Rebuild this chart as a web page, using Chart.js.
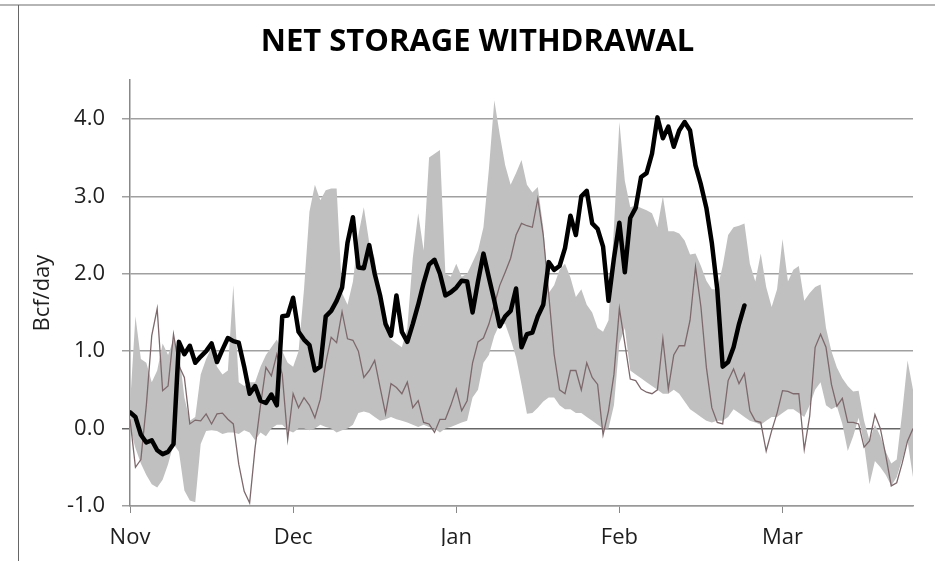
<!DOCTYPE html>
<html>
<head>
<meta charset="utf-8">
<title>Net Storage Withdrawal</title>
<script src="https://cdn.jsdelivr.net/npm/chart.js@4.4.1/dist/chart.umd.min.js"></script>
<style>
  html, body { margin: 0; padding: 0; background: #fff; }
  #frame { position: absolute; left: 0; top: 0; width: 935px; height: 561px; overflow: hidden; }
  #topline { position: absolute; left: 0; top: 4px; width: 935px; height: 2px; background: #b5b5b5; }
  #leftline { position: absolute; left: 18px; top: 5px; width: 1px; height: 556px; background: #666; }
  canvas { position: absolute; left: 0; top: 0; }
</style>
</head>
<body>
<div id="frame">
  <div id="topline"></div>
  <div id="leftline"></div>
  <canvas id="chart" width="935" height="561"></canvas>
</div>
<script>
// day index 0 = Nov 1, ticks every 30 days
const monthLabels = ['Nov', 'Dec', 'Jan', 'Feb', 'Mar'];
const monthTicks = [0, 30, 60, 90, 120];
const yTicks = [-1, 0, 1, 2, 3, 4];

// current season (thick black line)
const currentSeason = [
  0.21, 0.15, -0.08, -0.18, -0.15, -0.28, -0.33, -0.30, -0.20, 1.12,
  0.96, 1.07, 0.85, 0.93, 1.00, 1.10, 0.86, 1.02, 1.17, 1.13,
  1.11, 0.80, 0.45, 0.55, 0.36, 0.33, 0.44, 0.30, 1.45, 1.46,
  1.69, 1.25, 1.15, 1.08, 0.75, 0.80, 1.45, 1.52, 1.65, 1.82,
  2.40, 2.73, 2.08, 2.07, 2.37, 2.00, 1.72, 1.35, 1.20, 1.72,
  1.25, 1.12, 1.35, 1.60, 1.88, 2.12, 2.18, 2.00, 1.72, 1.76,
  1.82, 1.91, 1.90, 1.50, 1.90, 2.26, 1.95, 1.65, 1.32, 1.45,
  1.52, 1.81, 1.05, 1.22, 1.24, 1.45, 1.60, 2.15, 2.05, 2.10,
  2.33, 2.75, 2.50, 3.00, 3.07, 2.65, 2.58, 2.35, 1.65, 2.20,
  2.66, 2.02, 2.72, 2.85, 3.25, 3.30, 3.55, 4.02, 3.75, 3.90,
  3.64, 3.85, 3.96, 3.85, 3.40, 3.15, 2.85, 2.40, 1.80, 0.80,
  0.86, 1.05, 1.35, 1.59
];

// last season (thin line)
const lastSeason = [
  0.12, -0.50, -0.40, 0.30, 1.20, 1.55, 0.49, 0.55, 1.22, 0.81,
  0.66, 0.06, 0.11, 0.10, 0.19, 0.06, 0.19, 0.20, 0.12, 0.06,
  -0.46, -0.81, -0.96, -0.25, 0.30, 0.79, 0.68, 0.96, 0.70, -0.14,
  0.45, 0.27, 0.40, 0.30, 0.14, 0.38, 0.85, 1.18, 1.11, 1.51,
  1.16, 1.14, 1.00, 0.66, 0.75, 0.88, 0.53, 0.19, 0.58, 0.53,
  0.45, 0.60, 0.27, 0.36, 0.08, 0.06, -0.05, 0.12, 0.12, 0.30,
  0.51, 0.23, 0.36, 0.85, 1.12, 1.17, 1.35, 1.60, 1.85, 2.02,
  2.20, 2.50, 2.65, 2.62, 2.60, 2.97, 2.50, 1.74, 0.96, 0.50,
  0.45, 0.75, 0.75, 0.50, 0.85, 0.66, 0.57, -0.08, 0.23, 0.70,
  1.55, 1.10, 0.64, 0.62, 0.51, 0.47, 0.45, 0.50, 1.16, 0.51,
  0.95, 1.07, 1.07, 1.40, 2.09, 1.57, 0.79, 0.27, 0.08, 0.06,
  0.62, 0.77, 0.58, 0.71, 0.23, 0.10, 0.08, -0.29, -0.03, 0.20,
  0.49, 0.48, 0.45, 0.45, -0.27, 0.16, 1.05, 1.22, 1.05, 0.57,
  0.29, 0.39, 0.08, 0.08, 0.06, -0.24, -0.16, 0.18, 0.00, -0.35,
  -0.74, -0.70, -0.45, -0.16, 0.00
];

// historical range (grey band)
const rangeHigh = [
  0.30, 1.45, 0.90, 0.85, 0.60, 0.75, 1.10, 0.95, 1.15, 1.00,
  0.40, 0.10, 0.15, 0.70, 0.90, 1.05, 0.80, 0.70, 0.75, 1.85,
  0.60, 0.55, 0.60, 0.60, 0.80, 0.95, 1.05, 1.15, 1.00, 0.85,
  0.80, 1.00, 1.80, 2.80, 3.15, 2.95, 3.08, 3.10, 3.10, 1.75,
  1.60, 1.90, 2.50, 2.86, 2.40, 2.20, 1.60, 1.30, 1.15, 1.10,
  1.05, 1.30, 2.20, 2.78, 2.30, 3.50, 3.55, 3.60, 2.00, 1.96,
  2.13, 1.96, 2.00, 2.15, 2.30, 2.60, 3.35, 4.24, 3.80, 3.40,
  3.15, 3.30, 3.47, 3.15, 3.05, 3.12, 2.60, 1.75, 1.85, 2.05,
  2.13, 1.95, 1.70, 1.80, 1.60, 1.50, 1.30, 1.25, 1.40, 2.60,
  3.96, 3.20, 2.86, 2.88, 2.85, 2.82, 2.78, 2.60, 3.00, 2.55,
  2.55, 2.52, 2.43, 2.25, 2.26, 2.10, 1.91, 1.80, 1.80, 2.10,
  2.50, 2.60, 2.62, 2.65, 2.13, 1.90, 2.26, 1.83, 1.57, 1.80,
  2.45, 1.90, 2.05, 2.10, 1.65, 1.75, 1.83, 1.86, 1.30, 1.00,
  0.79, 0.65, 0.55, 0.48, 0.49, 0.10, -0.15, 0.05, -0.10, -0.30,
  -0.45, -0.40, 0.20, 0.88, 0.50
];
const rangeLow = [
  0.00, -0.25, -0.45, -0.60, -0.72, -0.76, -0.66, -0.46, -0.20, -0.30,
  -0.80, -0.93, -0.95, -0.20, -0.03, -0.02, -0.03, -0.07, -0.05, -0.05,
  -0.07, -0.02, -0.05, -0.15, -0.05, -0.10, 0.00, 0.05, 0.05, -0.02,
  -0.05, 0.00, 0.00, -0.02, 0.00, 0.05, 0.02, 0.00, -0.05, -0.02,
  0.00, 0.05, 0.20, 0.22, 0.20, 0.15, 0.10, 0.12, 0.15, 0.12,
  0.10, 0.08, 0.05, 0.02, 0.05, 0.02, 0.00, -0.05, 0.00, 0.02,
  0.05, 0.08, 0.10, 0.40, 0.50, 0.85, 0.95, 1.20, 1.35, 1.35,
  1.15, 0.92, 0.57, 0.19, 0.20, 0.27, 0.35, 0.40, 0.40, 0.30,
  0.25, 0.25, 0.20, 0.20, 0.15, 0.10, 0.05, 0.00, 0.00, 0.30,
  1.10, 1.30, 0.75, 0.70, 0.65, 0.60, 0.55, 0.50, 0.45, 0.45,
  0.50, 0.45, 0.35, 0.25, 0.20, 0.15, 0.10, 0.08, 0.10, 0.10,
  0.15, 0.25, 0.20, 0.15, 0.10, 0.08, 0.05, 0.10, 0.15, 0.15,
  0.20, 0.25, 0.25, 0.20, 0.15, 0.30, 0.50, 0.60, 0.30, 0.25,
  0.29, 0.06, -0.29, -0.10, 0.14, -0.20, -0.72, -0.42, -0.50, -0.60,
  -0.74, -0.63, -0.40, -0.16, -0.63
];

const toPoints = arr => arr.map((v, i) => ({ x: i, y: v }));

Chart.defaults.font.family = "'Open Sans', sans-serif";
Chart.defaults.color = '#1e1e1e';

const ctx = document.getElementById('chart').getContext('2d');
new Chart(ctx, {
  type: 'line',
  data: {
    datasets: [{
      label: 'Current',
      data: toPoints(currentSeason),
      borderColor: '#000',
      borderWidth: 4.5,
      borderJoinStyle: 'round',
      borderCapStyle: 'round',
      pointRadius: 0,
      fill: false,
      order: 1
    }, {
      label: 'Last year',
      data: toPoints(lastSeason),
      borderColor: '#7d686c',
      borderWidth: 1.3,
      pointRadius: 0,
      fill: false,
      order: 2
    }, {
      label: 'Range high',
      data: toPoints(rangeHigh),
      borderWidth: 0,
      borderColor: 'rgba(0,0,0,0)',
      backgroundColor: '#c0c0c0',
      pointRadius: 0,
      fill: '+1',
      order: 3
    }, {
      label: 'Range low',
      data: toPoints(rangeLow),
      borderWidth: 0,
      borderColor: 'rgba(0,0,0,0)',
      pointRadius: 0,
      fill: false,
      order: 4
    }]
  },
  options: {
    responsive: false,
    animation: false,
    devicePixelRatio: 1,
    layout: {
      padding: { top: 6, left: 42, right: 22, bottom: 15 }
    },
    plugins: {
      legend: { display: false },
      tooltip: { enabled: false },
      title: {
        display: true,
        text: 'NET STORAGE WITHDRAWAL',
        color: '#000',
        font: { size: 31, weight: 'bold' },
        padding: { top: 18, bottom: 19 }
      }
    },
    scales: {
      x: {
        type: 'linear',
        min: 0,
        max: 144,
        afterBuildTicks: scale => { scale.ticks = monthTicks.map(v => ({ value: v })); },
        afterFit: scale => { scale.height = 40; },
        ticks: {
          callback: v => monthLabels[v / 30],
          font: { size: 22 },
          padding: 12,
          maxRotation: 0
        },
        grid: {
          drawOnChartArea: false,
          drawTicks: true,
          tickLength: 7,
          color: '#888'
        },
        border: { display: true, color: '#999', width: 1.5 }
      },
      y: {
        min: -1,
        max: 4.5,
        afterBuildTicks: scale => { scale.ticks = yTicks.map(v => ({ value: v })); },
        afterFit: scale => { scale.width = 88; },
        ticks: {
          callback: v => v.toFixed(1),
          font: { size: 22 },
          padding: 17
        },
        grid: {
          color: c => (c.tick && c.tick.value === 0) ? '#666' : '#a0a0a0',
          lineWidth: 1.5,
          tickLength: 8
        },
        border: { display: true, color: '#888', width: 1.5 },
        title: {
          display: true,
          text: 'Bcf/day',
          font: { size: 22 },
          padding: { top: -12, bottom: 0 }
        }
      }
    }
  }
});
</script>
</body>
</html>
